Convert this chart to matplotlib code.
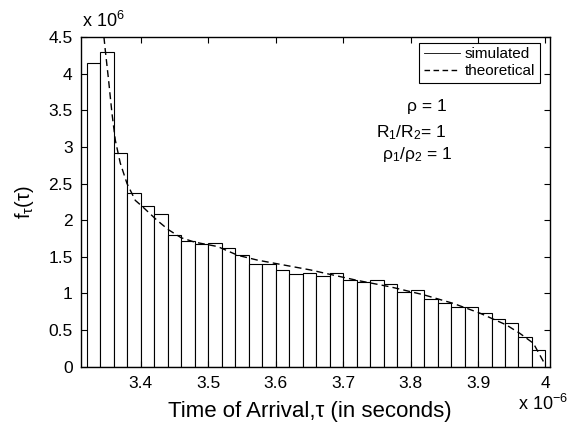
import matplotlib
matplotlib.use("Agg")
import matplotlib.pyplot as plt
from matplotlib.lines import Line2D
import numpy as np

plt.rcParams['font.family'] = ['Liberation Sans', 'DejaVu Sans']
plt.rcParams['mathtext.fontset'] = 'custom'
plt.rcParams['mathtext.rm'] = 'Liberation Sans'
plt.rcParams['mathtext.it'] = 'Liberation Sans:italic'

# Histogram bins (x in units of 1e-6 s), heights in units of 1e6
bin_start = 3.32
bin_width = 0.02
sim_heights = [4.14, 4.29, 2.91, 2.375, 2.20, 2.08, 1.80, 1.715, 1.68, 1.685,
               1.615, 1.53, 1.40, 1.40, 1.315, 1.26, 1.275, 1.24, 1.275, 1.18,
               1.155, 1.18, 1.125, 1.02, 1.045, 0.93, 0.87, 0.81, 0.82, 0.73,
               0.65, 0.59, 0.41, 0.23]

# Theoretical curve
theo_x = [3.3455, 3.3475, 3.3524, 3.3574, 3.3624, 3.3697, 3.3797, 3.392, 3.402,
          3.424, 3.441, 3.46, 3.48, 3.514, 3.544, 3.573, 3.611, 3.652, 3.671,
          3.72, 3.77, 3.82, 3.863, 3.903, 3.942, 3.962, 3.982, 3.997]
theo_y = [4.5, 4.32, 3.91, 3.46, 3.09, 2.78, 2.50, 2.27, 2.19,
          2.00, 1.87, 1.76, 1.70, 1.64, 1.52, 1.455, 1.39, 1.32, 1.28,
          1.18, 1.09, 0.98, 0.865, 0.73, 0.57, 0.455, 0.32, 0.07]

xticks = [3.4, 3.5, 3.6, 3.7, 3.8, 3.9, 4.0]
xtick_labels = ['3.4', '3.5', '3.6', '3.7', '3.8', '3.9', '4']
yticks = [0, 0.5, 1, 1.5, 2, 2.5, 3, 3.5, 4, 4.5]
ytick_labels = ['0', '0.5', '1', '1.5', '2', '2.5', '3', '3.5', '4', '4.5']

W, H = 571, 426
fig = plt.figure(figsize=(W / 100, H / 100), dpi=100)
ax = fig.add_axes([81 / W, 1 - 366.7 / H, (550 - 81) / W, (366.7 - 37) / H])

lefts = bin_start + bin_width * np.arange(len(sim_heights))
ax.bar(lefts, sim_heights, width=bin_width, align='edge', facecolor='white',
       edgecolor='black', linewidth=0.8)
ax.plot(theo_x, theo_y, color='black', linestyle=(0, (5, 3)), linewidth=1.0)

ax.set_xlim(3.3115, 4.0067)
ax.set_ylim(0, 4.5)
ax.set_xticks(xticks)
ax.set_xticklabels(xtick_labels)
ax.set_yticks(yticks)
ax.set_yticklabels(ytick_labels)
ax.tick_params(direction='in', top=True, right=True, labelsize=12.5,
               length=4, width=0.8)
ax.tick_params(axis='x', pad=7)
ax.tick_params(axis='y', pad=6)
for s in ax.spines.values():
    s.set_linewidth(1.0)

ax.set_xlabel('Time of Arrival,τ (in seconds)', fontsize=16)
ax.xaxis.set_label_coords((310 - 81) / 469, (366.7 - 412) / 329.7)
ax.xaxis.label.set_va('center')
ax.set_ylabel(r'$\mathregular{f_{τ}(τ)}$', fontsize=14.5)
ax.yaxis.set_label_coords((24 - 81) / 469, 0.5)
ax.yaxis.label.set_va('center')

fig.text(82 / W, 1 - 27 / H, r'x 10$^{6}$', fontsize=13, ha='left', va='baseline')
fig.text(518 / W, 1 - 410 / H, r'x 10$^{-6}$', fontsize=13, ha='left', va='baseline')

fig.text(447 / W, 1 - 107 / H, 'ρ = 1', fontsize=12.5, ha='right', va='center')
fig.text(447 / W, 1 - 133 / H, r'R$_1$/R$_2$= 1', fontsize=12.5, ha='right', va='center')
fig.text(452 / W, 1 - 155 / H, r'ρ$_1$/ρ$_2$ = 1', fontsize=12.5, ha='right', va='center')

handles = [Line2D([], [], color='black', linewidth=0.6),
           Line2D([], [], color='black', linestyle=(0, (4, 2.5)), linewidth=1.0)]
leg = ax.legend(handles, ['simulated', 'theoretical'], loc='upper right',
                bbox_to_anchor=(540 / W, 1 - 42.7 / H), bbox_transform=fig.transFigure,
                borderaxespad=0, fancybox=False, framealpha=1, edgecolor='black',
                fontsize=11, borderpad=0.3, handlelength=2.4, handletextpad=0.3,
                labelspacing=0.2)
leg.get_frame().set_linewidth(0.8)

fig.savefig('out.png', dpi=100)
